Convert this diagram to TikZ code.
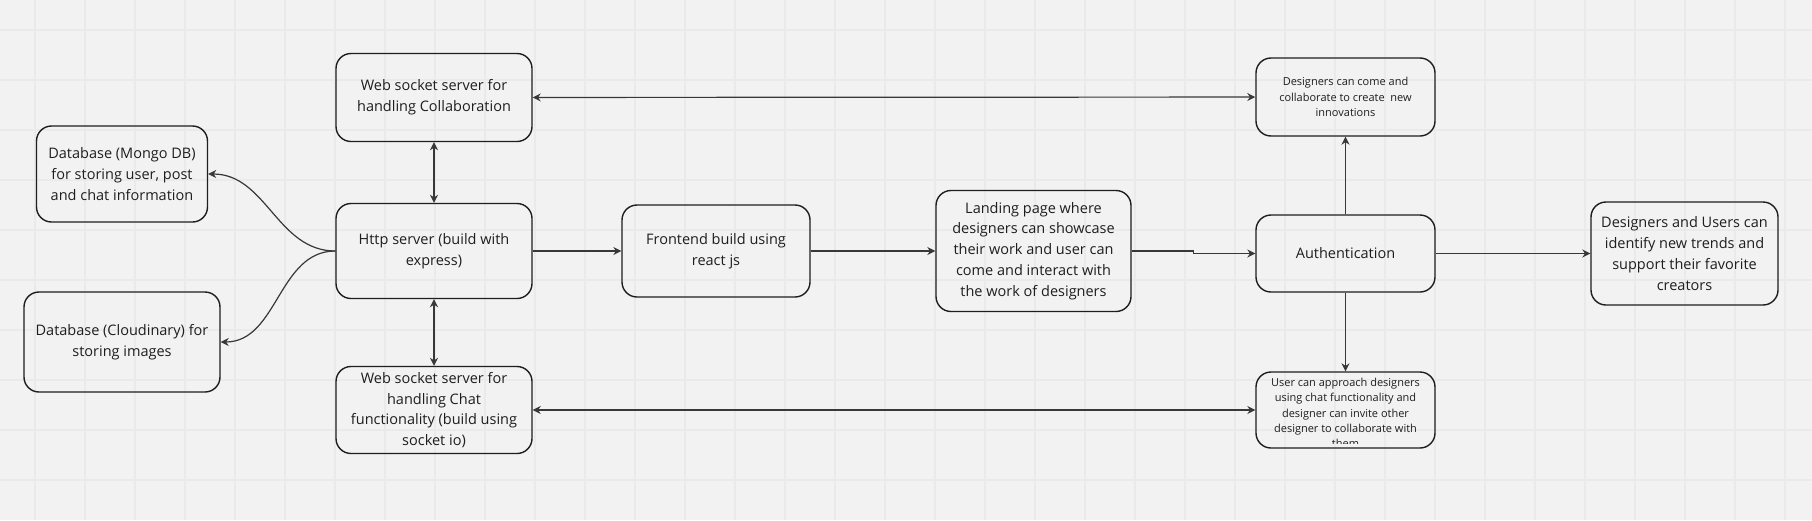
\documentclass[tikz,border=0pt]{standalone}
\usepackage{fontspec}
\setmainfont{Open Sans}
\usetikzlibrary{positioning, arrows.meta}

\definecolor{boardbg}{HTML}{F2F2F2}
\definecolor{gridline}{HTML}{EAEAEA}
\definecolor{edgecol}{HTML}{1E1E1E}
\definecolor{wirecol}{HTML}{383838}

\begin{document}
\begin{tikzpicture}[
        x=1pt, y=-1pt,
        >={Stealth[length=8pt, width=8pt]},
        every node/.style={font=\fontsize{14.5}{20.8}\selectfont, text=edgecol},
        box/.style={draw=edgecol, line width=1.4pt, rectangle, rounded corners=15pt, minimum width=196pt, align=center, inner sep=0pt},
        small/.style={box, minimum width=179pt, font=\fontsize{11}{15.4}\selectfont},
        wire/.style={draw=wirecol, line width=1.2pt}
    ]

    % board
    \fill[boardbg, use as bounding box] (0,0) rectangle (1812,520);
    \foreach \gx in {35,85,...,1785}
        \draw[gridline, line width=1.2pt] (\gx,0) -- (\gx,520);
    \foreach \gy in {30,80,...,480}
        \draw[gridline, line width=1.2pt] (0,\gy) -- (1812,\gy);

    % servers
    \node[box, minimum height=95pt] (http) at (434,251) {Http server (build with\\express)};
    \node[box, minimum height=88pt, above=60.6pt of http] (collab) {Web socket server for\\handling Collaboration};
    \node[box, minimum height=87pt, below=66.6pt of http] (chatws) {Web socket server for\\handling Chat\\functionality (build using\\socket io)};

    % storage
    \node[box, minimum width=171pt, minimum height=96pt] (mongo) at (122,174) {Database (Mongo DB)\\for storing user, post\\and chat information};
    \node[box, minimum height=100pt] (cloud) at (122,342) {Database (Cloudinary) for\\storing images};

    % client side
    \node[box, minimum width=188pt, minimum height=92pt, right=88.6pt of http] (frontend) {Frontend build using\\react js};
    \node[box, minimum width=195pt, minimum height=121pt, right=124.6pt of frontend] (landing) {Landing page where\\designers can showcase\\their work and user can\\come and interact with\\the work of designers};
    \node[box, minimum width=179pt, minimum height=77pt, right=123.6pt of landing, yshift=-2.5pt] (auth) {Authentication};
    \node[small, minimum height=78pt, above=77.6pt of auth] (collabres) {Designers can come and\\collaborate to create~ new\\innovations};
    \node[small, minimum height=76pt, below=78.6pt of auth] (chatres) {};
    \node[box, minimum width=187pt, minimum height=103pt, right=154.6pt of auth] (trends) {Designers and Users can\\identify new trends and\\support their favorite\\creators};

    % overflowing text of the chat box
    \begin{scope}
        \clip[rounded corners=12pt] ([shift={(3,3)}]chatres.north west) rectangle ([shift={(-3,-5)}]chatres.south east);
        \node[font=\fontsize{11}{15.4}\selectfont, align=center, inner sep=0pt] (chatrestext) at ([yshift=-3pt]chatres.center) {User can approach designers\\using chat functionality and\\designer can invite other\\designer to collaborate with\\them};
    \end{scope}

    \draw[wire, <->] (collab) -- (http);
    \draw[wire, <->] (http) -- (chatws);
    \draw[wire, ->] (http.west) to[out=180, in=0] (mongo.east);
    \draw[wire, ->] (http.west) to[out=180, in=0] (cloud.east);

    \draw[wire, ->] (http) -- (frontend);
    \draw[wire, ->] (frontend) -- (landing);
    \draw[wire, ->] (landing.east) -- ++(62,0) |- (auth.west);

    \draw[wire, ->] (auth) -- (collabres);
    \draw[wire, ->] (auth) -- (chatres);
    \draw[wire, ->] (auth) -- (trends);

    \draw[wire, <->] (collab) -- (collabres);
    \draw[wire, <->] (chatws) -- (chatres);

\end{tikzpicture}
\end{document}
